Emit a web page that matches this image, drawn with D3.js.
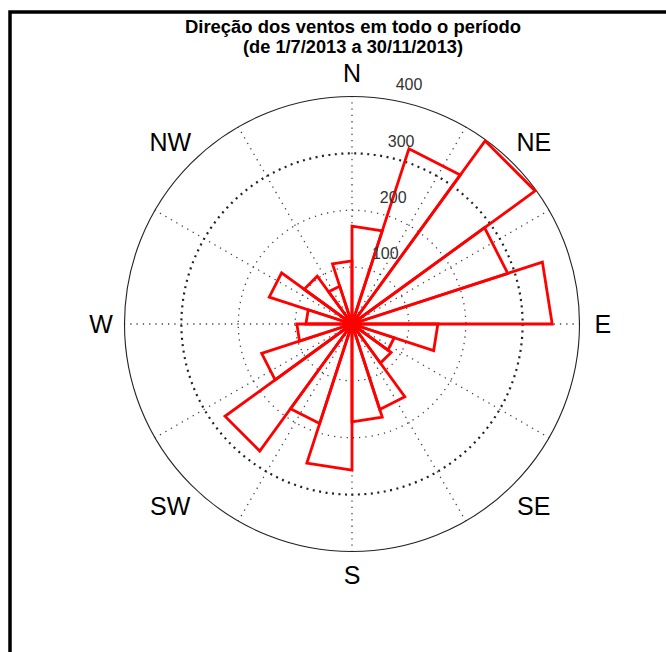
<!DOCTYPE html>
<html>
<head>
<meta charset="utf-8">
<script src="https://cdn.jsdelivr.net/npm/d3@7"></script>
<style>
  html, body { margin: 0; padding: 0; background: #fff; }
  svg { display: block; }
</style>
</head>
<body>
<svg id="chart" width="666" height="652"></svg>
<script>
// Wind direction histogram: 20 sectors of 18°, bearings measured clockwise from north
const binStarts = [0, 18, 36, 54, 72, 90, 108, 126, 144, 162, 180, 198, 216, 234, 252, 270, 288, 306, 324, 342];
const binWidth = 18;
const counts = [172, 324, 398, 288, 352, 151, 78, 85, 158, 172, 257, 184, 276, 167, 97, 81, 153, 104, 70, 111];

const radialTicks = [100, 200, 300, 400];
const spokeBearings = [0, 30, 60, 90, 120, 150, 180, 210, 240, 270, 300, 330];
const compassLabels = ["N", "NE", "E", "SE", "S", "SW", "W", "NW"];
const compassBearings = [0, 45, 90, 135, 180, 225, 270, 315];

const titleLines = ["Direção dos ventos em todo o período", "(de 1/7/2013 a 30/11/2013)"];

const svg = d3.select("#chart");
const cx = 352, cy = 324, R = 227.5;
const rad = d => d * Math.PI / 180;

const r = d3.scaleLinear().domain([0, 400]).range([0, R]);

// figure frame (top and left edges)
svg.append("path")
  .attr("d", "M10,652 V12 H666")
  .attr("fill", "none")
  .attr("stroke", "#000")
  .attr("stroke-width", 3.5);

// title
svg.append("g")
  .selectAll("text")
  .data(titleLines)
  .join("text")
  .attr("x", cx + 1)
  .attr("y", (d, i) => 33 + i * 20)
  .attr("text-anchor", "middle")
  .attr("font-family", "Liberation Sans, Arial, sans-serif")
  .attr("font-weight", "bold")
  .attr("font-size", 18)
  .attr("textLength", (d, i) => i === 0 ? 336 : 220)
  .attr("lengthAdjust", "spacingAndGlyphs")
  .attr("fill", "#000")
  .text(d => d);

const g = svg.append("g").attr("transform", `translate(${cx},${cy})`);

// dotted spokes every 30°
g.append("g")
  .selectAll("line")
  .data(spokeBearings)
  .join("line")
  .attr("x1", 0).attr("y1", 0)
  .attr("x2", d => R * Math.sin(rad(d)))
  .attr("y2", d => -R * Math.cos(rad(d)))
  .attr("stroke", "#444")
  .attr("stroke-width", 1.3)
  .attr("stroke-dasharray", "1.3,5");

// dotted rings for inner ticks, solid outer ring
g.append("g")
  .selectAll("circle")
  .data(radialTicks)
  .join("circle")
  .attr("r", d => r(d))
  .attr("fill", "none")
  .attr("stroke", (d, i) => i === radialTicks.length - 1 ? "#222" : (d === 300 ? "#222" : "#444"))
  .attr("stroke-width", (d, i) => i === radialTicks.length - 1 ? 1.1 : (d === 300 ? 2.2 : 1.3))
  .attr("stroke-dasharray", (d, i) => i === radialTicks.length - 1 ? null : (d === 300 ? "2,4.5" : "1.3,5"));

// rose sectors
const sector = d3.lineRadial()
  .angle(p => p.a)
  .radius(p => p.r)
  .curve(d3.curveLinearClosed);

g.append("g")
  .selectAll("path")
  .data(binStarts.map((b, i) => ({ start: b, value: counts[i] })))
  .join("path")
  .attr("d", d => sector([
    { a: 0, r: 0 },
    { a: rad(d.start), r: r(d.value) },
    { a: rad(d.start + binWidth), r: r(d.value) }
  ]))
  .attr("fill", "none")
  .attr("stroke", "#ff0000")
  .attr("stroke-width", 2.8)
  .attr("stroke-linejoin", "miter");

// radial tick values along bearing 8°
g.append("g")
  .selectAll("text")
  .data(radialTicks)
  .join("text")
  .attr("x", d => r(d) * Math.sin(rad(8)) + 12)
  .attr("y", d => -r(d) * Math.cos(rad(8)) - 14)
  .attr("dy", "0.35em")
  .attr("font-family", "Liberation Sans, Arial, sans-serif")
  .attr("font-size", 16)
  .attr("fill", "#333")
  .text(d => d);

// compass point labels
g.append("g")
  .selectAll("text")
  .data(compassLabels)
  .join("text")
  .attr("x", (d, i) => {
    const k = compassBearings[i] % 90 === 0 ? 1.103 : 1.13;
    return R * k * Math.sin(rad(compassBearings[i]));
  })
  .attr("y", (d, i) => {
    const k = compassBearings[i] % 90 === 0 ? 1.103 : 1.13;
    return -R * k * Math.cos(rad(compassBearings[i]));
  })
  .attr("dy", "0.36em")
  .attr("text-anchor", "middle")
  .attr("font-family", "Liberation Sans, Arial, sans-serif")
  .attr("font-size", 25)
  .attr("fill", "#000")
  .text(d => d);
</script>
</body>
</html>
